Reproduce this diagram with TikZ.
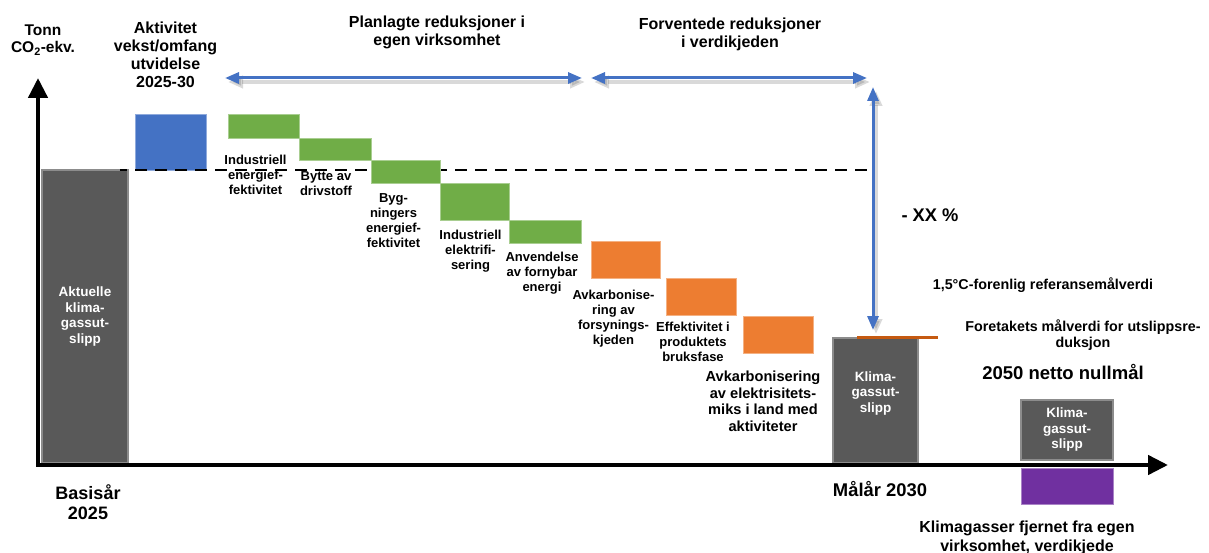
\documentclass[tikz,border=0pt]{standalone}
\usepackage{fontspec}
\setmainfont{Liberation Sans}
\usepackage{tikz}
\usetikzlibrary{positioning, arrows.meta}
\usepackage{xcolor}
\definecolor{cblue}{HTML}{4472C4}
\definecolor{cgreen}{HTML}{70AD47}
\definecolor{corange}{HTML}{ED7D31}
\definecolor{cdark}{HTML}{595959}
\definecolor{cedge}{HTML}{8C8C8C}
\definecolor{cpurple}{HTML}{7030A0}
\definecolor{ctarget}{HTML}{C55A11}

\begin{document}
\begin{tikzpicture}[
	x=1pt, y=-1pt,
	% Stil for de grå utslippsstolpene
	emisbar/.style={
		rectangle,
		draw=cedge,
		fill=cdark,
		line width=1.5pt,
		inner sep=0pt,
		outer sep=0pt,
		align=center,
		text=white,
		font=\fontsize{13.5}{15.5}\selectfont\bfseries
	},
	% Stil for trappetrinnene
	stepbox/.style={
		rectangle,
		inner sep=0pt,
		outer sep=0pt,
		line width=0.6pt
	},
	greenbox/.style={stepbox, draw=cgreen!60!white, fill=cgreen},
	orangebox/.style={stepbox, draw=corange!60!white, fill=corange, minimum width=70pt, minimum height=37pt},
	% Stil for tekst under trinnene
	steplabel/.style={
		align=center,
		inner sep=0pt,
		font=\fontsize{13}{15}\selectfont\bfseries
	},
	% Stil for overskrifter
	heading/.style={
		align=center,
		inner sep=0pt,
		font=\fontsize{16}{18}\selectfont\bfseries
	},
	% Stil for de blå pilene (med skygge)
	spanarrow/.style={draw=cblue, line width=3pt, >={Triangle[length=14pt, width=11pt]}, <->},
	spanshadow/.style={draw=black, opacity=0.15, line width=4pt, >={Triangle[length=15pt, width=12pt]}, <->,
		transform canvas={xshift=3pt, yshift=-4pt}},
	axisline/.style={draw=black, line width=4.5pt, >={Triangle[length=20pt, width=19pt]}, <->}
	]
	\useasboundingbox (0,0) rectangle (1209,553);
	
	% --- Basisår ---
	\node[emisbar, minimum width=86pt, minimum height=293pt, anchor=north west] (base) at (42,170)
	{Aktuelle\\klima-\\gassut-\\slipp};
	
	% Vekst i aktivitet
	\node[stepbox, draw=cblue!60!white, fill=cblue, minimum width=71pt, minimum height=56pt, anchor=north west] (growth) at (135,114) {};
	\node[heading, above=26pt of growth, xshift=-5pt] (growthlbl) {Aktivitet\\vekst/omfang\\utvidelse\\2025-30};
	
	% Nivålinje fra basisåret
	\coordinate (dashend) at (870,170);
	\draw[line width=2.5pt, dash pattern=on 12pt off 8pt, dash phase=5pt] ([xshift=-8pt]base.north east) -- (dashend);
	
	% --- Egne reduksjoner (grønne trinn) ---
	\node[greenbox, minimum width=71pt, minimum height=24pt, anchor=north west] (g1) at (228,114) {};
	\node[greenbox, minimum width=72pt, minimum height=22pt, below right=0pt and 0pt of g1] (g2) {};
	\node[greenbox, minimum width=69pt, minimum height=23pt, below right=0pt and 0pt of g2] (g3) {};
	\node[greenbox, minimum width=69pt, minimum height=37pt, below right=0pt and 0pt of g3] (g4) {};
	\node[greenbox, minimum width=72pt, minimum height=23pt, below right=0pt and 0pt of g4] (g5) {};
	
	\node[steplabel, below=17pt of g1, xshift=-8pt] (l1) {Industriell\\energief-\\fektivitet};
	\node[steplabel, below=11pt of g2, xshift=-9pt] (l2) {Bytte av\\drivstoff};
	\node[steplabel, below=10pt of g3, xshift=-12pt] (l3) {Byg-\\ningers\\energief-\\fektivitet};
	\node[steplabel, below=10pt of g4, xshift=-4pt] (l4) {Industriell\\elektrifi-\\sering};
	\node[steplabel, below=9pt of g5, xshift=-3pt] (l5) {Anvendelse\\av fornybar\\energi};
	
	% --- Reduksjoner i verdikjeden (oransje trinn) ---
	\node[orangebox, minimum width=69pt, anchor=north west] (o1) at (591,241) {};
	\node[orangebox, below right=0pt and 6pt of o1] (o2) {};
	\node[orangebox, below right=1pt and 7pt of o2] (o3) {};
	
	\node[steplabel, below=12pt of o1, xshift=-12pt] (l6) {Avkarbonise-\\ring av\\forsynings-\\kjeden};
	\node[steplabel, below=7pt of o2, xshift=-8pt] (l7) {Effektivitet i\\produktets\\bruksfase};
	\node[steplabel, font=\fontsize{14.6}{16.5}\selectfont\bfseries, below=18pt of o3, xshift=-15pt] (l8)
	{Avkarbonisering\\av elektrisitets-\\miks i land med\\aktiviteter};
	
	% --- Målår 2030 ---
	\node[emisbar, minimum width=85pt, minimum height=125pt, anchor=north west] (bar2030) at (833,338) {};
	\node[emisbar, draw=none, fill=none, minimum width=0pt, minimum height=0pt] (bar2030txt)
	at ([yshift=7pt]bar2030.center) {Klima-\\gassut-\\slipp};
	\coordinate (tgt-l) at (857,337);
	\coordinate (tgt-r) at (938,337);
	\draw[ctarget, line width=3pt] (tgt-l) -- (tgt-r);
	
	% --- Netto null 2050 ---
	\node[emisbar, minimum width=92pt, minimum height=60pt, anchor=north west] (bar2050) at (1021,400) {Klima-\\gassut-\\slipp};
	\node[stepbox, draw=cpurple!60!white, fill=cpurple, minimum width=92pt, minimum height=36pt, anchor=north west] (removals) at (1021,468) {};
	
	% Akser
	\coordinate (origin) at (38,465);
	\coordinate (ytip) at (38,78);
	\coordinate (xtip) at (1168,465);
	\draw[axisline] (ytip) -- (origin) -- (xtip);
	
	% Blå piler
	\coordinate (own-l) at (225,78);
	\coordinate (own-r) at (582,78);
	\coordinate (chain-l) at (591,78);
	\coordinate (chain-r) at (867,78);
	\coordinate (cut-top) at (873,87);
	\coordinate (cut-bot) at (873,330);
	\draw[spanshadow] (own-l) -- (own-r);
	\draw[spanshadow] (chain-l) -- (chain-r);
	\draw[spanshadow] (cut-top) -- (cut-bot);
	\draw[spanarrow] (own-l) -- (own-r);
	\draw[spanarrow] (chain-l) -- (chain-r);
	\draw[spanarrow] (cut-top) -- (cut-bot);
	
	% Tekster
	\node[heading, font=\fontsize{15.5}{17}\selectfont\bfseries, anchor=north] (unit) at (43,25) {Tonn\\CO\textsubscript{2}-ekv.};
	\node[heading, anchor=north] (ownhead) at (437,16) {Planlagte reduksjoner i\\egen virksomhet};
	\node[heading, anchor=north] (chainhead) at (730,18) {Forventede reduksjoner\\i verdikjeden};
	\node[heading, font=\fontsize{18.3}{20}\selectfont\bfseries] (cut) at (930,215) {- XX \%};
	\node[heading, font=\fontsize{14.3}{16}\selectfont\bfseries] (reflbl) at (1043,285) {1,5°C-forenlig referansemålverdi};
	\node[heading, font=\fontsize{14.3}{16}\selectfont\bfseries, anchor=north] (firmlbl) at (1083,320)
	{Foretakets målverdi for utslippsre-\\duksjon};
	\node[heading, font=\fontsize{18.5}{20}\selectfont\bfseries] (netzero) at (1063,372) {2050 netto nullmål};
	\node[heading, font=\fontsize{18}{20}\selectfont\bfseries, anchor=north] (baseyear) at (88,484) {Basisår\\2025};
	\node[heading, font=\fontsize{18.4}{20}\selectfont\bfseries] (targetyear) at (880,489) {Målår 2030};
	\node[heading, font=\fontsize{16}{19}\selectfont\bfseries, anchor=north] (removallbl) at (1027,521)
	{Klimagasser fjernet fra egen\\virksomhet, verdikjede};
	
\end{tikzpicture}
\end{document}
